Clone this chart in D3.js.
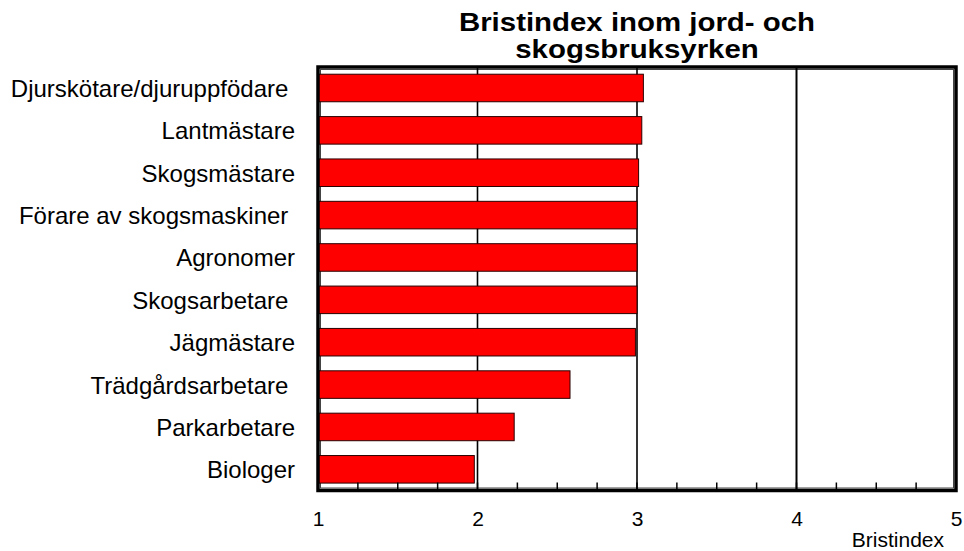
<!DOCTYPE html>
<html>
<head>
<meta charset="utf-8">
<script src="https://cdn.jsdelivr.net/npm/d3@7"></script>
<style>
  html, body { margin: 0; padding: 0; background: #fff; }
  svg { display: block; }
  text { font-family: "Liberation Sans", Arial, sans-serif; white-space: pre; }
</style>
</head>
<body>
<svg id="chart" width="964" height="551"></svg>
<script>
const titleLines = ["Bristindex inom jord- och", "skogsbruksyrken"];
const categories = ["Djurskötare/djuruppfödare ", "Lantmästare", "Skogsmästare", "Förare av skogsmaskiner ", "Agronomer", "Skogsarbetare ", "Jägmästare", "Trädgårdsarbetare ", "Parkarbetare", "Biologer"];
const values = [3.04, 3.03, 3.01, 3.00, 3.00, 3.00, 2.99, 2.58, 2.23, 1.98];
const xTicks = [1, 2, 3, 4, 5];
const xMinorTicks = d3.range(1, 5.001, 0.25);
const xTitle = "Bristindex";

(function () {
const svg = d3.select("#chart");
const pLeft = 318, pRight = 956, pTop = 67, pBottom = 490.5;

const x = d3.scaleLinear().domain([1, 5]).range([pLeft, pRight]);
const y = d3.scaleBand().domain(categories).range([66.8, 490.5]).paddingInner(0.35).paddingOuter(0.175);

// inner thin plot border
svg.append("rect")
  .attr("x", pLeft + 2.5).attr("y", pTop + 2.5)
  .attr("width", pRight - pLeft - 5).attr("height", pBottom - pTop - 5)
  .attr("fill", "none").attr("stroke", "#444").attr("stroke-width", 1);

// gridlines
svg.append("g").selectAll("line").data(xTicks.slice(1, -1)).join("line")
  .attr("x1", d => x(d)).attr("x2", d => x(d))
  .attr("y1", pTop).attr("y2", pBottom)
  .attr("stroke", "#000").attr("stroke-width", d => d === 4 ? 2 : 1.6);

// bars
svg.append("g").selectAll("rect").data(values).join("rect")
  .attr("x", x(1))
  .attr("y", (d, i) => y(categories[i]))
  .attr("width", d => x(d) - x(1))
  .attr("height", y.bandwidth())
  .attr("fill", "#ff0000")
  .attr("stroke", "#2a0000").attr("stroke-width", 1);

// minor ticks along bottom (inward)
svg.append("g").selectAll("line").data(xMinorTicks).join("line")
  .attr("x1", d => x(d)).attr("x2", d => x(d))
  .attr("y1", pBottom - 8).attr("y2", pBottom)
  .attr("stroke", "#000").attr("stroke-width", 1.5);

// thick frame
svg.append("rect")
  .attr("x", pLeft).attr("y", pTop)
  .attr("width", pRight - pLeft).attr("height", pBottom - pTop)
  .attr("fill", "none").attr("stroke", "#000").attr("stroke-width", 3.5);

// x axis tick labels via d3 axis (lines hidden)
const xAxis = d3.axisBottom(x).tickValues(xTicks).tickFormat(d3.format("d")).tickSize(0).tickPadding(0);
const gx = svg.append("g").attr("transform", `translate(0,${pBottom})`).call(xAxis);
gx.select(".domain").remove();
gx.selectAll(".tick text")
  .attr("y", 35.5).attr("dy", null)
  .attr("font-size", 21)
  .attr("fill", "#000")
  .attr("font-family", "Liberation Sans, Arial, sans-serif");

// x axis title
svg.append("text").attr("x", 944).attr("y", 547)
  .attr("text-anchor", "end").attr("font-size", 21).attr("fill", "#000").text(xTitle);

// category labels
svg.append("g").selectAll("text").data(categories).join("text")
  .attr("x", 295)
  .attr("y", d => y(d) + y.bandwidth() / 2 + 9)
  .attr("text-anchor", "end").attr("font-size", 24).attr("fill", "#000")
  .text(d => d);

// title
svg.append("g").selectAll("g").data(titleLines).join("g")
  .attr("transform", (d, i) => `translate(${(pLeft + pRight) / 2},${30.5 + i * 27}) scale(1.11,1)`)
  .append("text").attr("text-anchor", "middle").attr("font-size", 26.5).attr("font-weight", "bold").attr("fill", "#000")
  .text(d => d);
})();
</script>
</body>
</html>
